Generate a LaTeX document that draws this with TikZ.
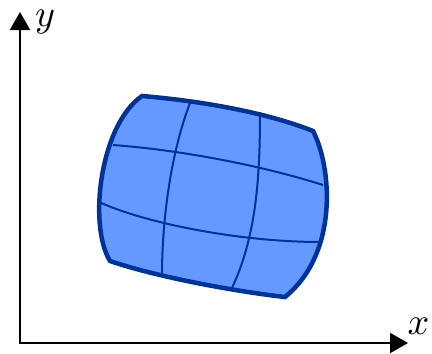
\documentclass[tikz,border=0pt]{standalone}
\usetikzlibrary{arrows.meta}
\definecolor{blobfill}{RGB}{102,153,255}
\definecolor{blobline}{RGB}{0,51,153}
\tikzset{
  axis/.style={line width=2.3pt, black, {Triangle[length=18pt,width=20pt]}-{Triangle[length=18pt,width=20pt]}},
  gridline/.style={line width=2pt, blobline},
  border/.style={line width=4.5pt, blobline, line join=miter},
  axlabel/.style={inner sep=0pt, scale=3.8}
}
\begin{document}
\begin{tikzpicture}[x=1pt,y=-1pt]
\useasboundingbox (0,0) rectangle (432,354);
% axes
\coordinate (ytip) at (20,12);
\coordinate (orig) at (20,343);
\coordinate (xtip) at (408,343);
\draw[axis] (ytip) -- (orig) -- (xtip);
\node[axlabel] (ylab) at (45,22.5) {$y$};
\node[axlabel] (xlab) at (418.5,326) {$x$};
% blob corners
\coordinate (tl) at (142,96);
\coordinate (tr) at (313,131);
\coordinate (br) at (285,297);
\coordinate (bl) at (110,261);
\def\blobpath{(tl) .. controls (190,100) and (260,110) .. (tr)
  .. controls (331,165) and (340,252) .. (br)
  .. controls (240,292) and (160,278) .. (bl)
  .. controls (88,225) and (100,125) .. (tl) -- cycle}
\fill[blobfill] \blobpath;
% inner grid lines
\coordinate (v1t) at (190,103); \coordinate (v1b) at (162,276);
\coordinate (v2t) at (260,112); \coordinate (v2b) at (231,290);
\coordinate (h1l) at (113,145); \coordinate (h1r) at (323,185);
\coordinate (h2l) at (99,202);  \coordinate (h2r) at (320,242);
\draw[gridline] (v1t) .. controls (172,150) and (162,215) .. (v1b);
\draw[gridline] (v2t) .. controls (260,180) and (256,238) .. (v2b);
\draw[gridline] (h1l) .. controls (180,150) and (260,165) .. (h1r);
\draw[gridline] (h2l) .. controls (150,225) and (245,242) .. (h2r);
% border
\draw[border] \blobpath;
\end{tikzpicture}
\end{document}
